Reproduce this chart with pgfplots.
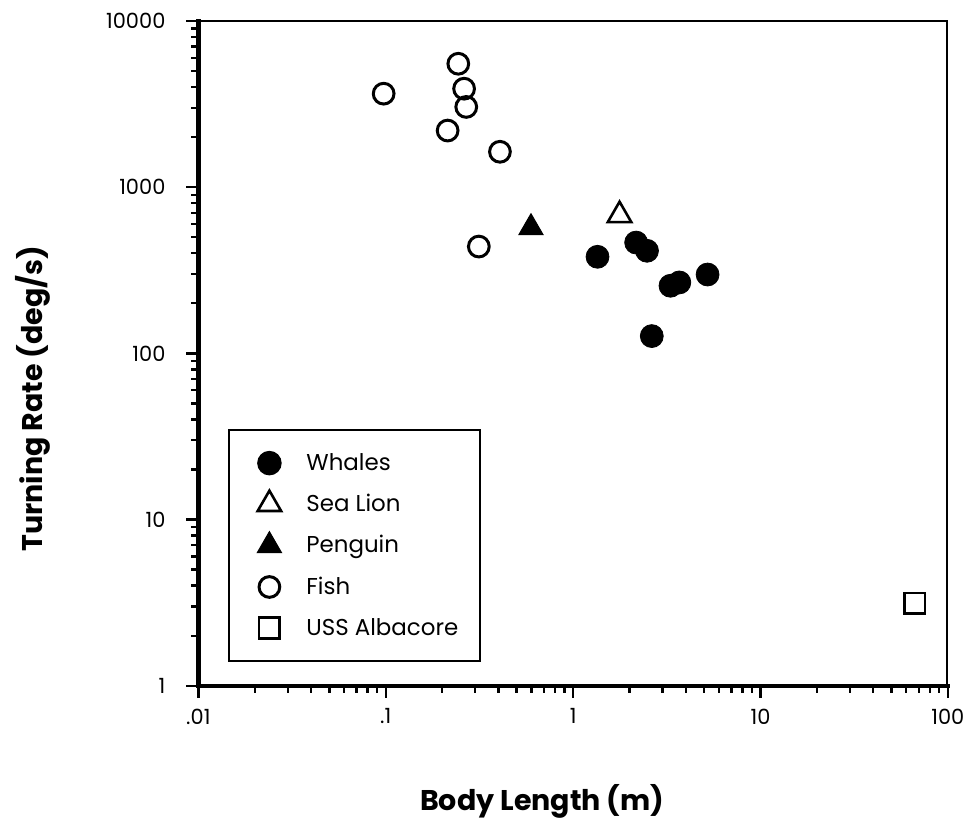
\documentclass[border=0pt]{standalone}
\usepackage{fontspec}
\setmainfont{Poppins}
\usepackage{pgfplots}
\pgfplotsset{compat=1.18}
\begin{document}
\begin{tikzpicture}
\begin{loglogaxis}[
  scale only axis,
  width=376pt, height=333.5pt,
  xmin=0.01, xmax=100, ymin=1, ymax=10000,
  axis lines=left,
  axis line style={-, line width=2.2pt, line cap=rect},
  tick align=outside,
  major tick length=6pt, minor tick length=3.5pt,
  every tick/.style={black, line width=1.2pt},
  xtick={0.01,0.1,1,10,100},
  xticklabels={.01,.1,1,10,100},
  ytick={1,10,100,1000,10000},
  yticklabels={1,10,100,1000,10000},
  ticklabel style={font=\fontsize{10.5}{12}\selectfont},
  xticklabel style={yshift=-2pt},
  yticklabel style={xshift=-7pt},
  xlabel={Body Length (m)},
  ylabel={Turning Rate (deg/s)},
  label style={font=\bfseries\fontsize{14.3}{17}\selectfont},
  xlabel style={at={(rel axis cs:0.4588,-0.1874)}, anchor=base},
  ylabel style={at={(rel axis cs:-0.2074,0.4318)}, anchor=base, rotate=0},
  legend style={at={(rel axis cs:0.0399,0.036)}, anchor=south west,
    draw=black, line width=0.8pt, fill=white,
    font=\fontsize{11.5}{13.5}\selectfont,
    inner xsep=9pt, inner ysep=9.5pt, row sep=6.5pt,
    legend cell align=left},
  legend image code/.code={\draw[#1] plot coordinates {(10.5pt,0pt)}; \path (0pt,0pt) (26.3pt,0pt);},
]
\addplot[only marks, mark=*, mark size=5.75pt, black, fill=black] coordinates {
(1.35,381) (2.17,464) (2.48,414) (3.31,255) (3.69,267) (5.22,298) (2.63,127)};
\addlegendentry{Whales}
\addplot[only marks, mark=triangle*, mark size=6.8pt, black, line width=1.3pt, mark options={fill=white}] coordinates {(1.77,677)};
\addlegendentry{Sea Lion}
\addplot[only marks, mark=triangle*, mark size=7pt, black, line width=0.5pt, mark options={fill=black}] coordinates {(0.596,570)};
\addlegendentry{Penguin}
\addplot[only marks, mark=o, mark size=5.2pt, black, line width=1.5pt] coordinates {
(0.0975,3650) (0.244,5525) (0.262,3911) (0.269,3038) (0.214,2190) (0.407,1632) (0.314,439)};
\addlegendentry{Fish}
\addplot[only marks, mark=square, mark size=5.2pt, black, line width=1.3pt] coordinates {(66.5,3.13)};
\addlegendentry{USS Albacore}
\draw[line width=1.4pt] (rel axis cs:0,1) -- (rel axis cs:1,1) -- (rel axis cs:1,0);
\end{loglogaxis}
\path (current axis.south west) ++(-99.5pt,-67.5pt) coordinate (bbA);
\path (current axis.north east) ++(10pt,10.5pt) coordinate (bbB);
\useasboundingbox (bbA) rectangle (bbB);
\end{tikzpicture}
\end{document}
